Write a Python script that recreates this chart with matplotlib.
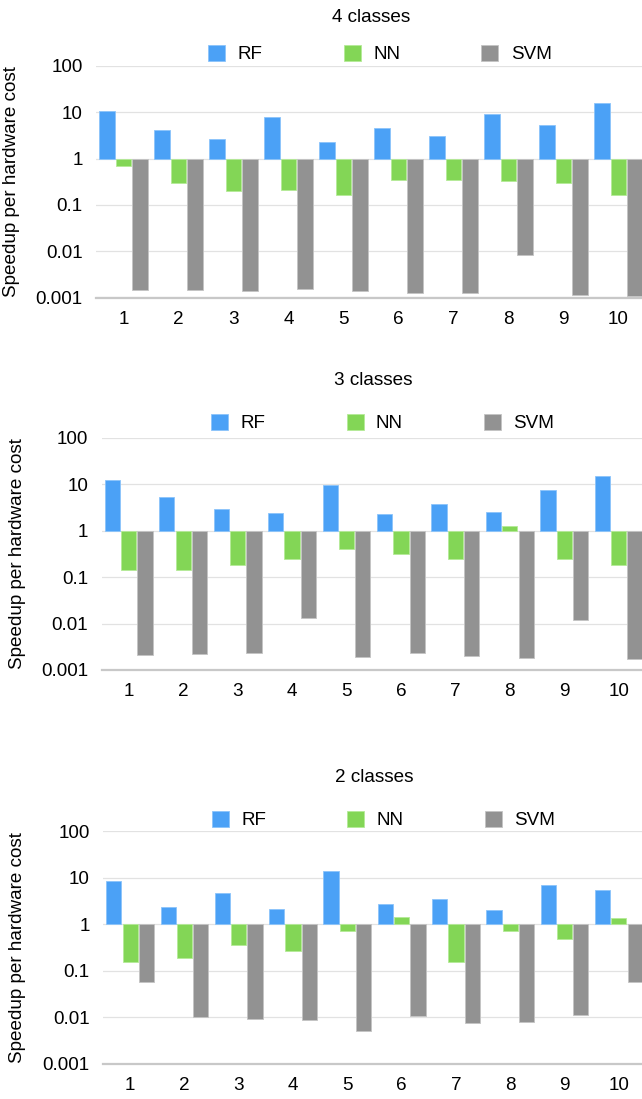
import numpy as np
import matplotlib
matplotlib.use("Agg")
import matplotlib.pyplot as plt

plt.rcParams['font.family'] = ['Liberation Sans', 'DejaVu Sans']

runs = ['1', '2', '3', '4', '5', '6', '7', '8', '9', '10']
models = ['RF', 'NN', 'SVM']
colors = ['#4ba1f6', '#83d656', '#929292']
edges = ['#8cc4fa', '#b5ea98', '#c4c4c4']

# speedup per hardware cost
rf_4 = [10.5, 4.1, 2.66, 7.9, 2.29, 4.6, 3.08, 9.2, 5.2, 15.9]
nn_4 = [0.68, 0.30, 0.20, 0.21, 0.164, 0.35, 0.35, 0.33, 0.30, 0.167]
svm_4 = [0.00142, 0.00146, 0.00139, 0.00149, 0.00137, 0.00128, 0.00124, 0.0083, 0.00114, 0.00110]

rf_3 = [12.2, 5.24, 2.98, 2.41, 9.7, 2.29, 3.83, 2.53, 7.67, 15.1]
nn_3 = [0.144, 0.142, 0.18, 0.25, 0.415, 0.31, 0.25, 1.26, 0.25, 0.18]
svm_3 = [0.00211, 0.00225, 0.00237, 0.0135, 0.00194, 0.00237, 0.0020, 0.00179, 0.0120, 0.00176]

rf_2 = [8.6, 2.36, 4.65, 2.14, 13.8, 2.65, 3.45, 2.03, 6.9, 5.3]
nn_2 = [0.15, 0.19, 0.35, 0.27, 0.70, 1.39, 0.15, 0.70, 0.47, 1.37]
svm_2 = [0.058, 0.0100, 0.0092, 0.0086, 0.00515, 0.0105, 0.0074, 0.0079, 0.0114, 0.058]

panels = [
    ('4 classes', [rf_4, nn_4, svm_4]),
    ('3 classes', [rf_3, nn_3, svm_3]),
    ('2 classes', [rf_2, nn_2, svm_2]),
]

W, H = 642, 1099
fig = plt.figure(figsize=(W / 100, H / 100), dpi=100)

# pixel boxes: left, top, right, bottom ; title pad (pt) ; legend offset
boxes = [(96, 66, 646, 297.5), (101.5, 438, 646, 670), (103, 831, 646, 1063.7)]
title_pads = [32.0, 38.0, 35.0]
leg_off = [12, 15, 11]
ylab_x = [12, 18, 18]
fs = 13.6

x = np.arange(len(runs))
offsets = [-0.3, 0.0, 0.3]
yticks = [0.001, 0.01, 0.1, 1, 10, 100]
ylabels = ['0.001', '0.01', '0.1', '1', '10', '100']

for (title, series), (l, t, r, b), tp, lo, yx in zip(panels, boxes, title_pads, leg_off, ylab_x):
    ax = fig.add_axes([l / W, 1 - b / H, (r - l) / W, (b - t) / H])
    ax.set_yscale('log')
    for vals, off, c, ec, name in zip(series, offsets, colors, edges, models):
        vals = np.array(vals)
        ax.bar(x + off, vals - 1, bottom=1, width=0.28, color=c,
               edgecolor=ec, linewidth=0.6, label=name, zorder=2)
    ax.set_ylim(0.001, 100)
    ax.set_xlim(-0.5, len(runs) - 0.5)
    ax.set_yticks(yticks)
    ax.set_yticklabels(ylabels)
    ax.minorticks_off()
    ax.set_xticks(x)
    ax.set_xticklabels(runs)
    ax.tick_params(axis='both', length=0, labelsize=fs)
    ax.tick_params(axis='y', pad=9.5)
    ax.tick_params(axis='x', pad=9.5)
    ax.grid(axis='y', color='#e2e2e2', linewidth=0.9, zorder=0)
    ax.set_axisbelow(True)
    for s in ['top', 'right', 'left']:
        ax.spines[s].set_visible(False)
    ax.spines['bottom'].set_color('#c8c8c8')
    ax.spines['bottom'].set_linewidth(1.6)
    ax.set_title(title, fontsize=fs, pad=tp)
    ax.legend(loc='center', bbox_to_anchor=(0.5 + 9 / (r - l), 1 + lo / (b - t)), ncol=3,
              frameon=False, fontsize=fs, handlelength=0.9, handleheight=0.95,
              handletextpad=0.65, columnspacing=4.3, borderaxespad=0)
    fig.text(yx / W, 1 - (t + b) / 2 / H, 'Speedup per hardware cost',
             rotation=90, ha='center', va='center', fontsize=fs)

fig.savefig('out.png', dpi=100)
